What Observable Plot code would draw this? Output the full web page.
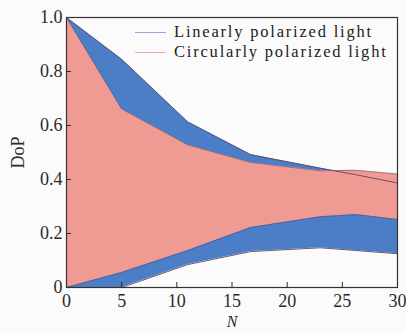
<!DOCTYPE html>
<html>
<head>
<meta charset="utf-8">
<script src="https://cdn.jsdelivr.net/npm/d3@7"></script>
<script src="https://cdn.jsdelivr.net/npm/@observablehq/plot@0.6"></script>
<style>
  html, body { margin: 0; padding: 0; background: #fbfbfb; }
  #wrap { position: relative; width: 406px; height: 333px; }
  .legend { position: absolute; left: 135px; top: 22px; font-family: 'Liberation Serif', 'Times New Roman', 'DejaVu Serif', serif; font-size: 16.5px; letter-spacing: 1.8px; color: #222; }
  .legend div { display: flex; align-items: center; height: 20px; }
  .legend span.sw { display: inline-block; width: 31px; height: 0; border-top: 1.5px solid; margin-right: 8px; }
  svg text { font-family: 'Liberation Serif', 'Times New Roman', 'DejaVu Serif', serif; }
  svg g[aria-label="x-axis tick label"] text, svg g[aria-label="y-axis tick label"] text { font-size: 18px; }
</style>
</head>
<body>
<div id="wrap"></div>
<script>
// Data
const N = [0, 5, 11, 16.7, 23, 26.2, 30];
const linearUpper   = [1.0, 0.845, 0.613, 0.492, 0.442, 0.418, 0.387];
const linearLower   = [0.0, 0.0, 0.085, 0.133, 0.147, 0.137, 0.125];
const circularUpper = [1.0, 0.661, 0.528, 0.463, 0.432, 0.434, 0.420];
const circularLower = [0.0, 0.056, 0.137, 0.222, 0.262, 0.270, 0.252];
const xTicks = [0, 5, 10, 15, 20, 25, 30];
const yTicks = [0, 0.2, 0.4, 0.6, 0.8, 1.0];
const seriesNames = ["Linearly polarized light", "Circularly polarized light"];

const blue = "#4b7ec6", pink = "#f09a94";
const edge = "#56476e";
const serif = "'Liberation Serif', 'Times New Roman', 'DejaVu Serif', serif";

const linear = N.map((n, i) => ({n, lo: linearLower[i], hi: linearUpper[i]}));
const circular = N.map((n, i) => ({n, lo: circularLower[i], hi: circularUpper[i]}));

const chart = Plot.plot({
  width: 406,
  height: 333,
  marginLeft: 66,
  marginRight: 9,
  marginTop: 17,
  marginBottom: 46,
  style: {fontFamily: serif, fontSize: "18px", color: "#2a2a2a", background: "transparent"},
  x: {domain: [0, 30]},
  y: {domain: [0, 1]},
  marks: [
    Plot.areaY(linear, {x: "n", y1: "lo", y2: "hi", fill: blue}),
    Plot.areaY(circular, {x: "n", y1: "lo", y2: "hi", fill: pink}),
    Plot.line(linear, {x: "n", y: "hi", stroke: edge, strokeWidth: 0.9}),
    Plot.line(linear, {x: "n", y: "lo", stroke: edge, strokeWidth: 0.9}),
    Plot.line(circular, {x: "n", y: "hi", stroke: edge, strokeWidth: 0.7, strokeOpacity: 0.7}),
    Plot.line(circular, {x: "n", y: "lo", stroke: edge, strokeWidth: 0.7, strokeOpacity: 0.7}),
    Plot.axisX({ticks: xTicks, tickSize: -5, tickPadding: 12, label: null, fontSize: 18}),
    Plot.axisY({ticks: yTicks, tickSize: -5, tickPadding: 9, fontSize: 18, tickFormat: d => d === 0 ? "0" : d3.format(".1f")(d),
      label: "DoP", labelArrow: "none", labelAnchor: "center", labelOffset: 55}),
    Plot.text(["N"], {frameAnchor: "bottom", dy: 34, fontStyle: "italic", fontSize: 16, lineAnchor: "middle"}),
    Plot.frame({stroke: "#333", strokeWidth: 1.2})
  ]
});

const wrap = document.getElementById("wrap");
wrap.appendChild(chart);
const leg = document.createElement("div");
leg.className = "legend";
const colors = ["#95a6dc", "#f3aaa6"];
seriesNames.forEach((name, i) => {
  const row = document.createElement("div");
  const sw = document.createElement("span");
  sw.className = "sw";
  sw.style.borderColor = colors[i];
  row.appendChild(sw);
  row.appendChild(document.createTextNode(name));
  leg.appendChild(row);
});
wrap.appendChild(leg);
</script>
</body>
</html>
